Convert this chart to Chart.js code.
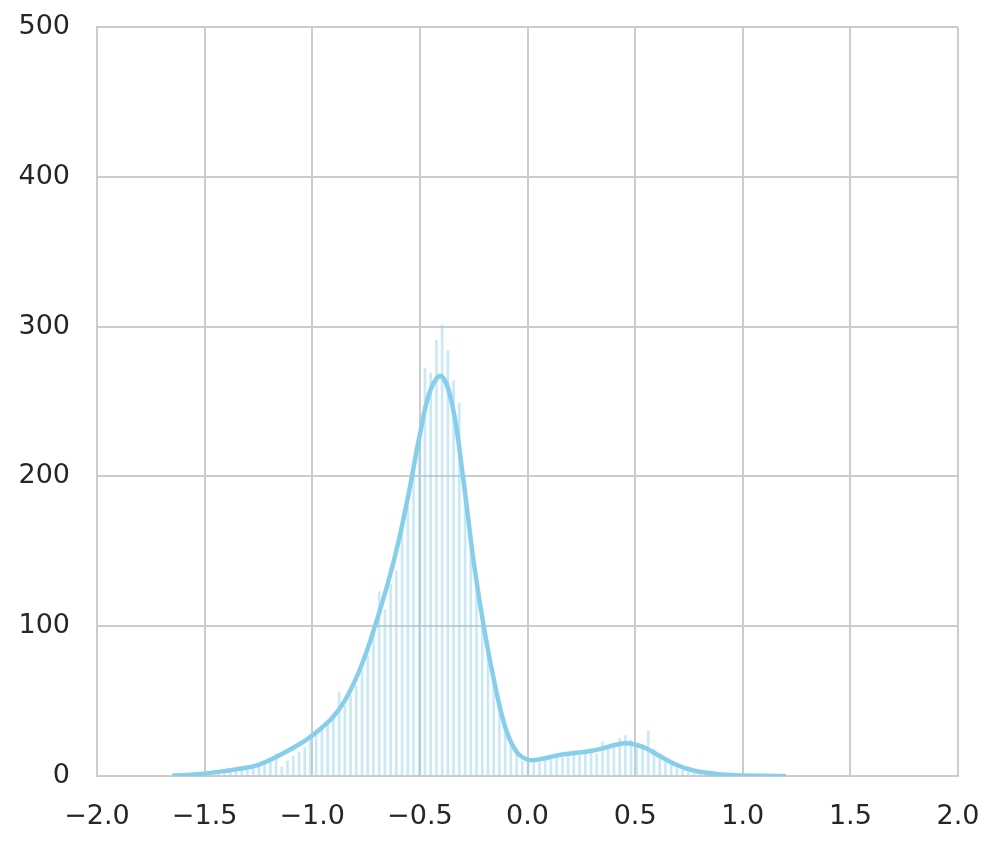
<!DOCTYPE html>
<html>
<head>
<meta charset="utf-8">
<script src="https://cdn.jsdelivr.net/npm/chart.js@4"></script>
<style>
  html, body { margin: 0; padding: 0; background: #ffffff; }
  #wrap { width: 996px; height: 847px; }
</style>
</head>
<body>
<div id="wrap"><canvas id="chart" width="996" height="847"></canvas></div>
<script>
// histogram bins (width and start)
const binStart = -1.66;
const binWidth = 0.0266;
const binCounts = [
    0, 1, 0, 1, 1, 2, 1, 3, 2, 4,
    3, 5, 4, 6, 5, 8, 7, 12, 15, 6,
    10, 13, 16, 19, 28, 31, 33, 36, 42, 56,
    47, 54, 60, 70, 80, 95, 123, 111, 128, 137,
    165, 180, 205, 228, 272, 269, 291, 301, 284, 264,
    249, 196, 160, 126, 100, 80, 62, 45, 30, 20,
    15, 10, 9, 12, 9, 13, 11, 14, 12, 15,
    17, 14, 16, 18, 15, 23, 19, 22, 25, 27,
    24, 19, 21, 30, 18, 15, 11, 10, 6, 4,
    3, 2, 2, 1, 1, 0, 1, 0, 0, 1
];

// density curve, scaled to counts
const kdeX = [-1.65, -1.55, -1.45, -1.35, -1.25, -1.15, -1.05, -1.00, -0.95, -0.90,
              -0.85, -0.80, -0.75, -0.70, -0.65, -0.60, -0.55, -0.50, -0.45, -0.40,
              -0.35, -0.30, -0.25, -0.20, -0.15, -0.10, -0.05, 0.00, 0.05, 0.10,
              0.15, 0.20, 0.25, 0.30, 0.35, 0.40, 0.45, 0.50, 0.55, 0.60,
              0.65, 0.70, 0.75, 0.80, 0.90, 1.00, 1.10, 1.20];
const kdeY = [0.3, 1, 2.5, 4.5, 7.5, 14, 22, 27, 33, 40,
              50, 64, 82, 104, 128, 156, 190, 228, 258, 267,
              248, 200, 143, 97, 60, 31, 16, 11, 11, 12.5,
              14, 15, 15.8, 16.8, 18.4, 20.5, 21.8, 21, 18.5, 14.5,
              10.5, 7, 4.5, 2.8, 1, 0.3, 0.1, 0];

const xMin = -2, xMax = 2, xStep = 0.5;
const yMin = 0, yMax = 500, yStep = 100;

const barPoints = binCounts.map((c, i) => ({ x: binStart + binWidth * (i + 0.5), y: c }));
const kdePoints = kdeX.map((x, i) => ({ x: x, y: kdeY[i] }));

const gridColor = '#cccccc';
const textColor = '#262626';
const tickFont = { family: 'DejaVu Sans', size: 27 };

function fmt(v) {
    const s = Math.abs(v).toFixed(1);
    return v < 0 ? '\u2212' + s : s;
}

new Chart(document.getElementById('chart'), {
    type: 'bar',
    data: {
        datasets: [
            {
                type: 'line',
                data: kdePoints,
                borderColor: '#87ceeb',
                borderWidth: 4.5,
                pointRadius: 0,
                tension: 0.4,
                fill: false,
                order: 0
            },
            {
                type: 'bar',
                data: barPoints,
                backgroundColor: 'rgba(135, 206, 235, 0.45)',
                borderWidth: 0,
                barThickness: 2,
                order: 1
            }
        ]
    },
    options: {
        responsive: false,
        animation: false,
        events: [],
        layout: { padding: { left: 0, right: 38, top: 27, bottom: 0 } },
        plugins: {
            legend: { display: false },
            tooltip: { enabled: false }
        },
        scales: {
            x: {
                type: 'linear',
                min: xMin,
                max: xMax,
                offset: false,
                grid: { color: gridColor, lineWidth: 2, drawTicks: false, offset: false },
                border: { color: gridColor, width: 2 },
                ticks: {
                    stepSize: xStep,
                    color: textColor,
                    font: tickFont,
                    padding: 25,
                    maxRotation: 0,
                    callback: v => fmt(v)
                },
                afterFit: s => {
                    s.height = 71;
                    s.paddingLeft = 0;
                    s.paddingRight = 0;
                }
            },
            y: {
                min: yMin,
                max: yMax,
                grid: { color: gridColor, lineWidth: 2, drawTicks: false },
                border: { color: gridColor, width: 2 },
                ticks: {
                    stepSize: yStep,
                    color: textColor,
                    font: tickFont,
                    padding: 27
                },
                afterFit: s => {
                    s.width = 97;
                    s.paddingTop = 0;
                    s.paddingBottom = 0;
                }
            }
        }
    }
});
</script>
</body>
</html>
